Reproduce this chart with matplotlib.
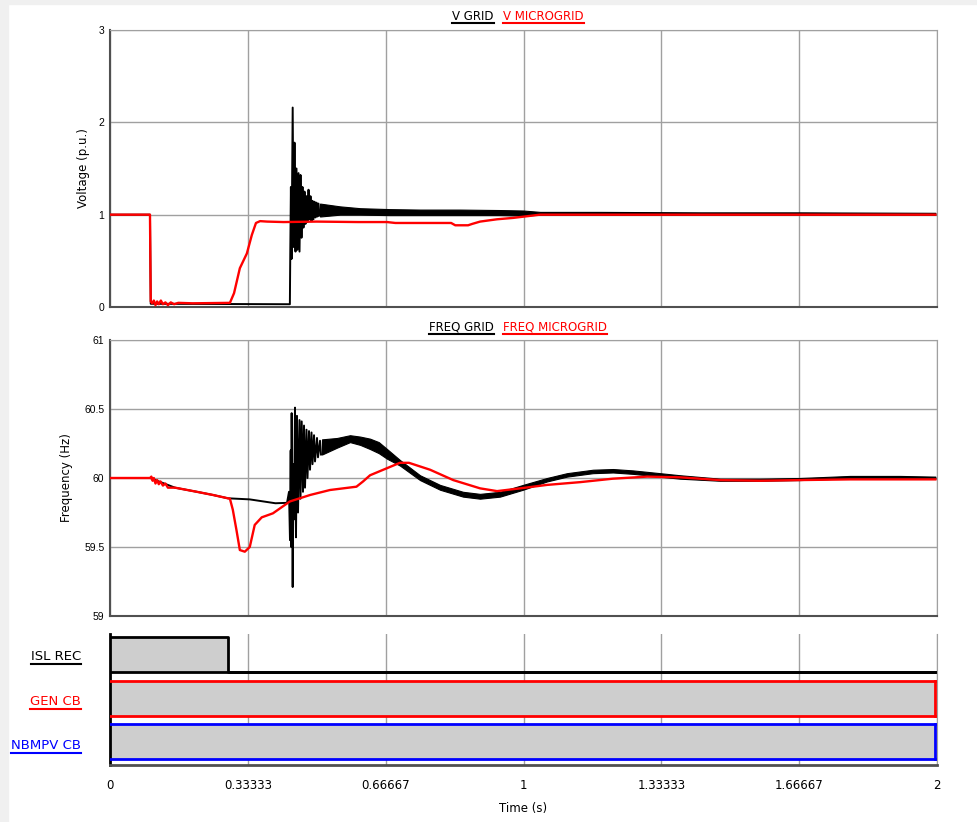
import matplotlib.pyplot as plt
from matplotlib.lines import Line2D
from matplotlib.patches import Rectangle

plt.rcParams['font.family'] = ['DejaVu Sans']
plt.rcParams['font.size'] = 8.5

# ---- data ----
xticks = [0, 1/3, 2/3, 1, 4/3, 5/3, 2]
xtick_labels = ['0', '0.33333', '0.66667', '1', '1.33333', '1.66667', '2']
t_end = 1.996

# V MICROGRID (red)
vm_t = [0, 0.0967, 0.0985, 0.102, 0.106, 0.110, 0.114, 0.118, 0.123, 0.128, 0.134, 0.140,
        0.147, 0.155, 0.165, 0.200, 0.290, 0.300, 0.314, 0.331, 0.343, 0.353, 0.363, 0.380,
        0.420, 0.500, 0.600, 0.670, 0.690, 0.825, 0.835, 0.866, 0.876, 0.895, 0.936, 0.975,
        1.040, t_end]
vm_v = [1.0, 1.0, 0.06, 0.04, 0.07, 0.02, 0.06, 0.03, 0.07, 0.03, 0.05, 0.02,
        0.05, 0.03, 0.045, 0.04, 0.045, 0.15, 0.42, 0.58, 0.78, 0.91, 0.93, 0.925,
        0.92, 0.925, 0.92, 0.92, 0.91, 0.91, 0.885, 0.885, 0.90, 0.925, 0.95, 0.965,
        1.0, 1.0]

# V GRID (black): step + first swing
vg_t = [0, 0.0967, 0.0985, 0.4350, 0.4360, 0.4375, 0.4390, 0.4418, 0.4440, 0.4462, 0.4486,
        0.4510, 0.4534, 0.4559, 0.4583, 0.4607, 0.4631, 0.4655, 0.4679, 0.4704, 0.4728,
        0.4752, 0.4776, 0.4801, 0.4825, 0.4849, 0.4873, 0.4897, 0.4921, 0.4946, 0.4970,
        0.4994, 0.5018, 0.5042, 0.5067]
vg_v = [1.0, 1.0, 0.035, 0.03, 0.60, 1.30, 0.52, 2.16, 0.65, 1.78, 0.60,
        1.50, 0.62, 1.45, 0.60, 1.43, 0.75, 1.30, 0.86, 1.25, 0.90,
        1.20, 0.92, 1.27, 0.95, 1.20, 0.93, 1.15, 0.95, 1.14, 0.97,
        1.13, 0.98, 1.12, 0.99]
# V GRID noise band afterwards
vgb_t = [0.508, 0.556, 0.605, 0.677, 0.750, 0.846, 0.943, 0.999, 1.040, 1.185, 1.427, 1.669, t_end]
vgb_hi = [1.12, 1.09, 1.07, 1.06, 1.055, 1.055, 1.05, 1.045, 1.03, 1.03, 1.025, 1.025, 1.02]
vgb_lo = [0.98, 1.00, 1.00, 0.995, 0.995, 0.995, 0.995, 0.99, 1.00, 1.00, 1.00, 1.00, 1.00]

# FREQ MICROGRID (red)
fm_t = [0, 0.0967, 0.100, 0.103, 0.106, 0.110, 0.114, 0.118, 0.122, 0.128, 0.134, 0.140,
        0.157, 0.210, 0.249, 0.285, 0.290, 0.297, 0.306, 0.314, 0.326, 0.338, 0.350, 0.367,
        0.394, 0.435, 0.484, 0.532, 0.596, 0.612, 0.629, 0.677, 0.701, 0.723, 0.774, 0.830,
        0.895, 0.936, 0.992, 1.057, 1.137, 1.216, 1.299, 1.378, 1.475, 1.572, 1.669, 1.790,
        1.910, t_end]
fm_f = [60.0, 60.0, 60.01, 59.98, 60.0, 59.96, 59.985, 59.955, 59.975, 59.945, 59.96, 59.93,
        59.93, 59.90, 59.877, 59.853, 59.85, 59.77, 59.62, 59.478, 59.466, 59.50, 59.66, 59.715,
        59.744, 59.83, 59.877, 59.913, 59.937, 59.975, 60.02, 60.08, 60.11, 60.11, 60.06, 59.985,
        59.925, 59.905, 59.925, 59.95, 59.97, 59.995, 60.01, 60.005, 59.985, 59.98, 59.985, 59.99,
        59.99, 59.99]

# FREQ GRID (black): slow decline + first swing
fg_t = [0, 0.0967, 0.157, 0.210, 0.249, 0.285, 0.338, 0.400, 0.4281, 0.4329, 0.4353, 0.4370,
        0.4382, 0.4393, 0.4418, 0.4437, 0.4450, 0.4474, 0.4498, 0.4522, 0.4547, 0.4583,
        0.4607, 0.4636, 0.4667, 0.4692, 0.4716, 0.4752, 0.4776, 0.4813, 0.4837, 0.4873,
        0.4897, 0.4934, 0.4958, 0.5006, 0.5030, 0.5079, 0.5103]
fg_f = [60.0, 60.0, 59.93, 59.90, 59.877, 59.853, 59.845, 59.817, 59.82, 59.90, 59.55, 60.20,
        59.50, 60.47, 59.21, 60.10, 59.70, 60.51, 59.57, 60.45, 59.75, 60.42,
        59.85, 60.41, 59.90, 60.38, 59.93, 60.35, 60.00, 60.34, 60.06, 60.33,
        60.10, 60.31, 60.12, 60.29, 60.15, 60.27, 60.17]
# FREQ GRID noise band afterwards
fgb_t = [0.5127, 0.5490, 0.5804, 0.6050, 0.6288, 0.6500, 0.6699, 0.7013,
         0.7497, 0.7981, 0.8537, 0.8948, 0.9432, 0.9988, 1.0568, 1.1052, 1.1681, 1.2164,
         1.2648, 1.3301, 1.3785, 1.4752, 1.5719, 1.6687, 1.7896, 1.9105, t_end]
fgb_hi = [60.28, 60.29, 60.31, 60.30, 60.285, 60.26, 60.21, 60.13,
          60.02, 59.95, 59.90, 59.885, 59.90, 59.95, 60.00, 60.035, 60.06, 60.065,
          60.055, 60.035, 60.02, 59.995, 59.995, 60.00, 60.015, 60.015, 60.01]
fgb_lo = [60.17, 60.22, 60.26, 60.24, 60.21, 60.18, 60.14, 60.09,
          59.985, 59.915, 59.865, 59.85, 59.865, 59.915, 59.975, 60.01, 60.035, 60.04,
          60.03, 60.01, 59.995, 59.98, 59.98, 59.985, 59.998, 59.998, 59.993]

# digital signals: switch times and states
isl_t, isl_s = [0.0, 0.285], [1, 0]
gen_t, gen_s = [0.0], [1]
nbm_t, nbm_s = [0.0], [1]

# ---- figure ----
W, H = 977, 822
fig = plt.figure(figsize=(W / 100, H / 100), dpi=100)


def box(l, t, r, b):
    return [l / W, 1 - b / H, (r - l) / W, (b - t) / H]


fig.patches.append(Rectangle((0, 0), 8 / W, 1, transform=fig.transFigure,
                             color='#f0f0f0', zorder=-5))
fig.patches.append(Rectangle((0, 1 - 4 / H), 1, 4 / H, transform=fig.transFigure,
                             color='#f0f0f0', zorder=-5))

ax_v = fig.add_axes(box(110, 30, 937, 307))
ax_f = fig.add_axes(box(110, 340, 937, 616))
ax_d = fig.add_axes(box(110, 634, 937, 765))

gcol = '#a0a0a0'
for ax in (ax_v, ax_f, ax_d):
    ax.set_xlim(0, 2)
    ax.set_xticks(xticks)
    ax.tick_params(length=0, labelsize=8.5)
    ax.grid(axis='x', color=gcol, lw=1)
    ax.set_axisbelow(True)
    ax.spines['right'].set_color(gcol)
    ax.spines['top'].set_color(gcol)
    ax.spines['left'].set_color('#505050')
    ax.spines['bottom'].set_color('#505050')
    ax.spines['left'].set_linewidth(1.5)
    ax.spines['bottom'].set_linewidth(1.5)

for ax in (ax_v, ax_f):
    ax.grid(axis='y', color=gcol, lw=1)
    ax.set_xticklabels([])
    ax.tick_params(axis='y', pad=4)

# voltage panel
ax_v.set_ylim(0, 3)
ax_v.set_yticks([0, 1, 2, 3])
ax_v.set_yticklabels(['0', '1', '2', '3'], family='Liberation Sans', fontsize=7.5)
ax_v.set_ylabel('Voltage (p.u.)', fontsize=8.5, labelpad=6)
ax_v.plot(vg_t, vg_v, color='black', lw=1.4, zorder=2)
ax_v.fill_between(vgb_t, vgb_lo, vgb_hi, color='black', lw=0.8, zorder=2)
ax_v.plot(vm_t, vm_v, color='red', lw=1.7, zorder=3)

# frequency panel
ax_f.set_ylim(59, 61)
ax_f.set_yticks([59, 59.5, 60, 60.5, 61])
ax_f.set_yticklabels(['59', '59.5', '60', '60.5', '61'], family='Liberation Sans', fontsize=7.5)
ax_f.set_ylabel('Frequency (Hz)', fontsize=8.5, labelpad=8)
ax_f.plot(fg_t, fg_f, color='black', lw=1.4, zorder=2)
ax_f.fill_between(fgb_t, fgb_lo, fgb_hi, color='black', lw=0.8, zorder=2)
ax_f.plot(fm_t, fm_f, color='red', lw=1.7, zorder=3)

# digital panel
ax_d.set_ylim(131, 0)
ax_d.set_yticks([])
ax_d.spines['top'].set_visible(False)
ax_d.spines['left'].set_color('black')
ax_d.spines['left'].set_linewidth(2)
ax_d.spines['bottom'].set_linewidth(2)
ax_d.set_xticklabels(xtick_labels)
ax_d.tick_params(axis='x', pad=10)
ax_d.set_xlabel('Time (s)', fontsize=8.5, labelpad=7)

rows = [(isl_t, isl_s, 'black'), (gen_t, gen_s, 'red'), (nbm_t, nbm_s, 'blue')]
for k, (tt, ss, c) in enumerate(rows):
    top = 3 + 43.5 * k
    bot = top + 35
    xs = tt + [t_end]
    st = ss + [ss[-1]]
    lev = [bot - s * (bot - top) for s in st]
    ax_d.fill_between(xs, bot, lev, step='post', color='#cecece', lw=0, zorder=1)
    ax_d.plot([0, t_end], [bot, bot], color=c, lw=2, zorder=3)
    ax_d.plot(xs, lev, drawstyle='steps-post', color=c, lw=2, zorder=3)
    if st[-1]:
        ax_d.plot([t_end, t_end], [top, bot], color=c, lw=2, zorder=3)

# underlined labels
labels = [
    ('V GRID', 494, 16, 23.5, 'black', 'right', 8.5),
    ('V MICROGRID', 503, 16, 23.5, 'red', 'left', 8.5),
    ('FREQ GRID', 494, 326.5, 334, 'black', 'right', 8.5),
    ('FREQ MICROGRID', 503, 326.5, 334, 'red', 'left', 8.5),
    ('ISL REC', 81, 656.5, 663.5, 'black', 'right', 9.5),
    ('GEN CB', 81, 701, 708.5, 'red', 'right', 9.5),
    ('NBMPV CB', 81, 745.5, 753, 'blue', 'right', 9.5),
]
texts = []
for s, x, y, yu, c, ha, fs in labels:
    txt = fig.text(x / W, 1 - y / H, s, color=c, ha=ha, va='center', fontsize=fs)
    texts.append((txt, yu, c))

fig.canvas.draw()
rend = fig.canvas.get_renderer()
for txt, yu, c in texts:
    bb = txt.get_window_extent(renderer=rend)
    fig.add_artist(Line2D([bb.x0 / W, bb.x1 / W], [1 - yu / H, 1 - yu / H],
                          transform=fig.transFigure, color=c, lw=1.5))

fig.savefig('out.png', dpi=100, facecolor='white')
